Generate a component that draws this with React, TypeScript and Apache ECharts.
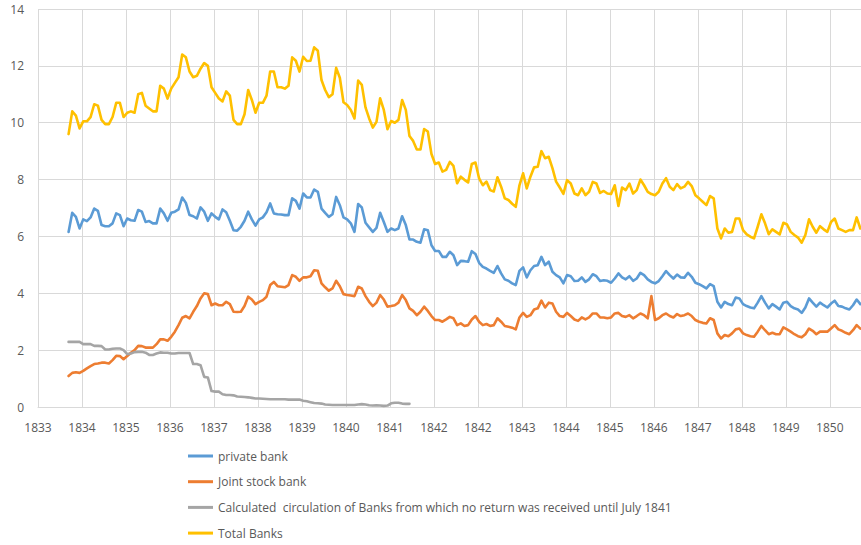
import React, { useEffect, useRef } from 'react';
import * as echarts from 'echarts';

// Tick labels of the horizontal axis, as printed in the source (note the repeated 1842)
const TICK_LABELS = [
  '1833', '1834', '1835', '1836', '1837', '1838', '1839', '1840', '1841',
  '1842', '1842', '1843', '1844', '1845', '1846', '1847', '1848', '1849', '1850',
];

// Returns are four-weekly: first return sits at 0.695 tick units after the 1833 tick,
// and consecutive returns are 1/12 of a tick unit apart.
const FIRST_RETURN = 0.695;
const RETURN_STEP = 1 / 12;
const AXIS_MAX = 18.71;

const SERIES_NAMES = [
  'private bank',
  'Joint stock bank',
  'Calculated  circulation of Banks from which no return was received until July 1841',
  'Total Banks',
];

const privateBank = [
  6.16, 6.83, 6.69, 6.28, 6.6, 6.54, 6.67, 6.98, 6.9, 6.4,
  6.36, 6.36, 6.46, 6.81, 6.75, 6.36, 6.63, 6.57, 6.55, 6.93,
  6.87, 6.51, 6.54, 6.46, 6.46, 6.98, 6.81, 6.55, 6.83, 6.87,
  6.95, 7.37, 7.18, 6.75, 6.71, 6.63, 7.02, 6.87, 6.55, 6.81,
  6.69, 6.6, 6.95, 6.85, 6.55, 6.22, 6.2, 6.34, 6.55, 6.87,
  6.6, 6.38, 6.6, 6.67, 6.85, 7.16, 6.81, 6.78, 6.77, 6.75,
  6.75, 7.34, 7.25, 6.98, 7.51, 7.37, 7.37, 7.65, 7.57, 6.98,
  6.83, 6.69, 6.78, 7.39, 7.1, 6.67, 6.6, 6.46, 6.16, 7.14,
  7.02, 6.48, 6.32, 6.16, 6.3, 6.83, 6.51, 6.16, 6.28, 6.22,
  6.28, 6.71, 6.4, 5.89, 5.89, 5.81, 5.78, 6.25, 6.22, 5.69,
  5.49, 5.49, 5.28, 5.28, 5.46, 5.34, 4.99, 5.14, 5.13, 5.11,
  5.48, 5.38, 5.07, 4.93, 4.87, 4.79, 4.72, 4.96, 4.7, 4.49,
  4.44, 4.35, 4.29, 4.79, 4.91, 4.56, 4.81, 4.96, 4.99, 5.28,
  4.99, 5.11, 4.76, 4.64, 4.56, 4.35, 4.64, 4.6, 4.43, 4.44,
  4.56, 4.4, 4.49, 4.67, 4.6, 4.43, 4.46, 4.44, 4.37, 4.52,
  4.7, 4.56, 4.49, 4.6, 4.44, 4.52, 4.72, 4.64, 4.49, 4.4,
  4.35, 4.43, 4.6, 4.78, 4.64, 4.52, 4.66, 4.56, 4.55, 4.72,
  4.58, 4.37, 4.32, 4.25, 4.17, 4.32, 4.25, 3.7, 3.5, 3.7,
  3.62, 3.58, 3.85, 3.82, 3.62, 3.55, 3.5, 3.47, 3.67, 3.9,
  3.67, 3.47, 3.62, 3.53, 3.43, 3.67, 3.7, 3.55, 3.47, 3.43,
  3.31, 3.5, 3.82, 3.67, 3.53, 3.67, 3.58, 3.5, 3.64, 3.74,
  3.55, 3.53, 3.47, 3.43, 3.58, 3.78, 3.62,
];

const jointStockBank = [
  1.09, 1.2, 1.22, 1.2, 1.27, 1.36, 1.44, 1.51, 1.53, 1.56,
  1.56, 1.53, 1.65, 1.8, 1.79, 1.68, 1.79, 1.91, 2.0, 2.15,
  2.14, 2.09, 2.09, 2.09, 2.21, 2.38, 2.38, 2.33, 2.47, 2.65,
  2.88, 3.14, 3.2, 3.12, 3.35, 3.55, 3.82, 4.0, 3.97, 3.58,
  3.64, 3.58, 3.58, 3.7, 3.62, 3.35, 3.34, 3.35, 3.55, 3.88,
  3.78, 3.62, 3.7, 3.76, 3.88, 4.29, 4.4, 4.25, 4.23, 4.21,
  4.29, 4.64, 4.58, 4.44, 4.56, 4.56, 4.6, 4.81, 4.79, 4.35,
  4.21, 4.09, 4.17, 4.44, 4.25, 3.97, 3.94, 3.92, 3.9, 4.23,
  4.17, 3.9, 3.7, 3.55, 3.67, 3.94, 3.78, 3.53, 3.55, 3.58,
  3.67, 3.94, 3.76, 3.47, 3.38, 3.23, 3.35, 3.53, 3.38, 3.2,
  3.06, 3.06, 3.0, 3.08, 3.17, 3.12, 2.88, 2.94, 2.85, 2.88,
  3.08, 3.2, 3.0, 2.88, 2.92, 2.85, 2.88, 3.12, 3.0, 2.85,
  2.82, 2.79, 2.73, 3.15, 3.31, 3.17, 3.23, 3.43, 3.47, 3.74,
  3.5, 3.67, 3.64, 3.35, 3.2, 3.17, 3.31, 3.2, 3.08, 3.03,
  3.15, 3.08, 3.15, 3.29, 3.29, 3.15, 3.15, 3.12, 3.15, 3.29,
  3.31, 3.2, 3.17, 3.23, 3.12, 3.2, 3.29, 3.23, 3.12, 3.9,
  3.06, 3.12, 3.23, 3.29, 3.2, 3.15, 3.27, 3.2, 3.23, 3.29,
  3.2, 3.06, 3.0, 2.96, 2.94, 3.12, 3.06, 2.59, 2.41, 2.53,
  2.49, 2.59, 2.73, 2.76, 2.59, 2.53, 2.49, 2.47, 2.65, 2.85,
  2.7, 2.56, 2.61, 2.56, 2.56, 2.8, 2.73, 2.65, 2.56, 2.49,
  2.45, 2.56, 2.76, 2.68, 2.56, 2.65, 2.65, 2.65, 2.76, 2.88,
  2.73, 2.68, 2.61, 2.56, 2.7, 2.88, 2.76,
];

const noReturnBanks = [
  2.29, 2.29, 2.29, 2.29, 2.21, 2.21, 2.21, 2.15, 2.15, 2.14,
  2.02, 2.02, 2.05, 2.06, 2.06, 2.0, 1.86, 1.88, 1.93, 1.94,
  1.94, 1.91, 1.83, 1.83, 1.88, 1.92, 1.91, 1.91, 1.88, 1.88,
  1.9, 1.9, 1.9, 1.9, 1.51, 1.51, 1.47, 1.06, 1.04, 0.56,
  0.54, 0.54, 0.45, 0.42, 0.42, 0.41, 0.37, 0.36, 0.35, 0.34,
  0.32, 0.3, 0.3, 0.29, 0.28, 0.27, 0.27, 0.27, 0.27, 0.27,
  0.26, 0.26, 0.26, 0.26, 0.22, 0.2, 0.17, 0.14, 0.13, 0.12,
  0.09, 0.08, 0.07, 0.07, 0.07, 0.07, 0.07, 0.07, 0.07, 0.09,
  0.1, 0.09, 0.06, 0.05, 0.06, 0.05, 0.04, 0.05, 0.13, 0.15,
  0.15, 0.12, 0.11, 0.11,
];

const totalBanks = [
  9.6, 10.4, 10.25, 9.8, 10.05, 10.05, 10.2, 10.65, 10.6, 10.1,
  9.95, 9.95, 10.2, 10.7, 10.7, 10.2, 10.35, 10.4, 10.35, 11.0,
  11.05, 10.6, 10.5, 10.4, 10.4, 11.3, 11.2, 10.85, 11.2, 11.4,
  11.6, 12.4, 12.3, 11.8, 11.6, 11.65, 11.9, 12.1, 12.0, 11.25,
  11.05, 10.85, 10.75, 11.1, 10.95, 10.1, 9.95, 9.95, 10.3, 11.15,
  10.8, 10.35, 10.7, 10.7, 10.95, 11.8, 11.8, 11.25, 11.25, 11.2,
  11.3, 12.3, 12.18, 11.8, 12.32, 12.17, 12.18, 12.65, 12.53, 11.5,
  11.15, 10.9, 11.0, 11.93, 11.58, 10.72, 10.62, 10.45, 10.15, 11.48,
  11.33, 10.54, 10.15, 9.83, 10.03, 10.86, 10.45, 9.77, 10.06, 10.0,
  10.1, 10.8, 10.45, 9.53, 9.36, 9.06, 9.06, 9.78, 9.69, 8.9,
  8.55, 8.6, 8.28, 8.34, 8.62, 8.48, 7.87, 8.1, 7.99, 7.9,
  8.55, 8.6, 8.04, 7.8, 7.93, 7.63, 7.58, 8.08, 7.75, 7.34,
  7.28, 7.15, 7.04, 7.8, 8.22, 7.69, 8.1, 8.43, 8.45, 9.0,
  8.75, 8.8, 8.4, 7.93, 7.72, 7.5, 7.98, 7.86, 7.51, 7.45,
  7.69, 7.45, 7.57, 7.92, 7.86, 7.53, 7.6, 7.51, 7.49, 7.8,
  7.07, 7.72, 7.63, 7.86, 7.51, 7.63, 8.0, 7.8, 7.57, 7.49,
  7.45, 7.57, 7.86, 8.05, 7.75, 7.63, 7.84, 7.69, 7.75, 7.92,
  7.77, 7.45, 7.34, 7.22, 7.1, 7.42, 7.34, 6.28, 5.93, 6.28,
  6.13, 6.16, 6.63, 6.63, 6.22, 6.07, 5.99, 5.93, 6.34, 6.78,
  6.46, 6.08, 6.25, 6.16, 6.07, 6.48, 6.42, 6.16, 6.05, 5.96,
  5.78, 6.05, 6.6, 6.34, 6.13, 6.36, 6.25, 6.16, 6.51, 6.63,
  6.28, 6.22, 6.16, 6.22, 6.22, 6.67, 6.28,
];

const COLORS = ['#5B9BD5', '#ED7D31', '#A5A5A5', '#FFC000'];
const FONT = 'Open Sans';
const TEXT_COLOR = '#595959';
const GRID_COLOR = '#D9D9D9';

const toPoints = (values: number[]) =>
  values.map((v, i) => [FIRST_RETURN + i * RETURN_STEP, v]);

export default function App() {
  const ref = useRef<HTMLDivElement>(null);

  useEffect(() => {
    document.body.style.margin = '0';
    if (!ref.current) return;
    const chart = echarts.init(ref.current, null, { renderer: 'svg' });
    const allValues = [privateBank, jointStockBank, noReturnBanks, totalBanks];
    chart.setOption({
      animation: false,
      color: COLORS,
      textStyle: { fontFamily: FONT },
      grid: { left: 38, right: 0, top: 9, bottom: 138, containLabel: false },
      xAxis: {
        type: 'value',
        min: 0,
        max: AXIS_MAX,
        interval: 1,
        axisLine: { show: true, lineStyle: { color: GRID_COLOR, width: 1 } },
        axisTick: { show: false },
        splitLine: { show: true, lineStyle: { color: GRID_COLOR, width: 1 } },
        axisLabel: {
          margin: 14,
          color: TEXT_COLOR,
          fontSize: 12,
          fontFamily: FONT,
          showMaxLabel: false,
          formatter: (v: number) => {
            const k = Math.round(v);
            return Math.abs(v - k) < 1e-6 && k >= 0 && k < TICK_LABELS.length ? TICK_LABELS[k] : '';
          },
        },
      },
      yAxis: {
        type: 'value',
        min: 0,
        max: 14,
        interval: 2,
        axisLine: { show: false },
        axisTick: { show: false },
        splitLine: { show: true, lineStyle: { color: GRID_COLOR, width: 1 } },
        axisLabel: { margin: 14, color: TEXT_COLOR, fontSize: 12, fontFamily: FONT },
      },
      legend: {
        orient: 'vertical',
        left: 188,
        top: 449,
        padding: 0,
        icon: 'rect',
        itemWidth: 25,
        itemHeight: 3,
        itemGap: 11.7,
        textStyle: { color: TEXT_COLOR, fontSize: 12, fontFamily: FONT, lineHeight: 14 },
        data: SERIES_NAMES,
      },
      series: SERIES_NAMES.map((name, s) => ({
        name,
        type: 'line',
        data: toPoints(allValues[s]),
        symbol: 'none',
        showSymbol: false,
        lineStyle: { width: 2.6, color: COLORS[s], join: 'round', cap: 'round' },
        itemStyle: { color: COLORS[s] },
        clip: true,
      })),
    });
    return () => chart.dispose();
  }, []);

  return <div ref={ref} style={{ width: 861, height: 545 }} />;
}
